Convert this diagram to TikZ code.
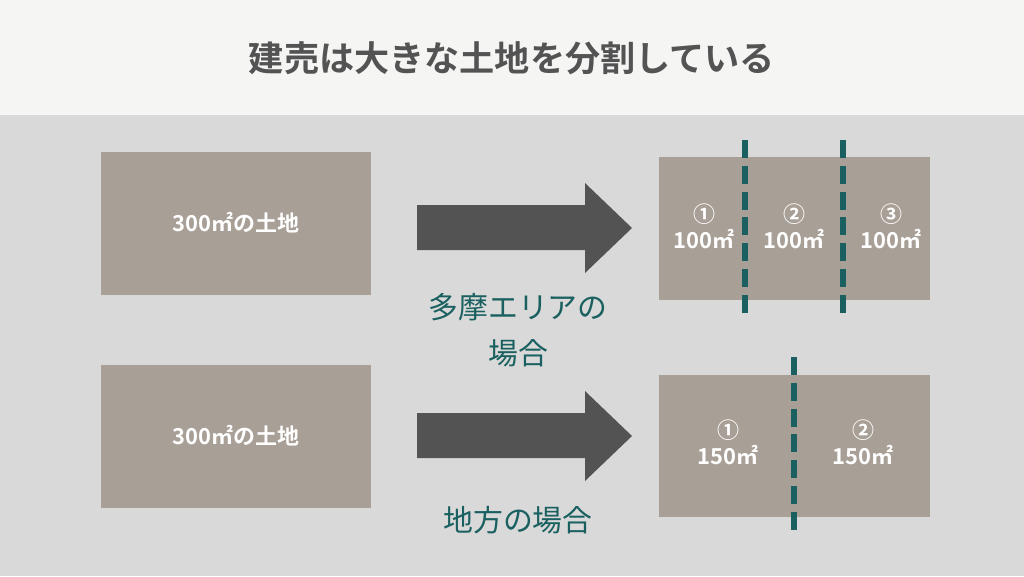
\documentclass[tikz,border=0pt]{standalone}
\usepackage{fontspec}
\setmainfont{Noto Sans CJK JP}
\newfontfamily\jpbold{Noto Sans CJK JP Bold}
\usetikzlibrary{positioning}
\definecolor{landgray}{HTML}{A89F96}
\definecolor{arrowgray}{HTML}{535353}
\definecolor{teal}{HTML}{1A6060}
\definecolor{bggray}{HTML}{D9D9D9}
\definecolor{titlebg}{HTML}{F5F5F3}
\tikzset{
  land/.style={fill=landgray, draw=none},
  landtext/.style={text=white, font=\jpbold\fontsize{12.5}{15}\selectfont, align=center},
  cut/.style={draw=teal, line width=3.4pt, dash pattern=on 10.2pt off 4.5pt},
  bigarrow/.style={fill=arrowgray, draw=none},
  caption/.style={text=teal, font=\fontsize{17}{26}\selectfont, align=center}
}
\begin{document}
\begin{tikzpicture}[x=0.02cm, y=-0.02cm]
% background
\fill[bggray] (0,0) rectangle (1024,576);
\fill[titlebg] (0,0) rectangle (1024,115);
\node[font=\jpbold\fontsize{20}{24}\selectfont, text=arrowgray] (title) at (512,58) {建売は大きな土地を分割している};

% top row
\fill[land] (101,152) rectangle (371,295);
\node[landtext] (landA) at (236,223) {300㎡の土地};
\fill[bigarrow] (417,205) -- (585,205) -- (585,183) -- (632,228) -- (585,273) -- (585,250) -- (417,250) -- cycle;
\node[caption] (capA) at (518,330) {多摩エリアの\\場合};
\fill[land] (659,157) rectangle (930,300);
\draw[cut] (745,140) -- (745,316);
\draw[cut] (843,140) -- (843,316);
\node[landtext] (partA1) at (704,226) {①\\100㎡};
\node[landtext] (partA2) at (794,226) {②\\100㎡};
\node[landtext] (partA3) at (891,226) {③\\100㎡};

% bottom row
\fill[land] (101,365) rectangle (371,508);
\node[landtext] (landB) at (236,436) {300㎡の土地};
\fill[bigarrow] (417,413) -- (585,413) -- (585,391) -- (632,436) -- (585,481) -- (585,458) -- (417,458) -- cycle;
\node[caption] (capB) at (518,520) {地方の場合};
\fill[land] (659,375) rectangle (930,517);
\draw[cut] (794,357) -- (794,533);
\node[landtext] (partB1) at (728,442) {①\\150㎡};
\node[landtext] (partB2) at (863,442) {②\\150㎡};
\end{tikzpicture}
\end{document}
